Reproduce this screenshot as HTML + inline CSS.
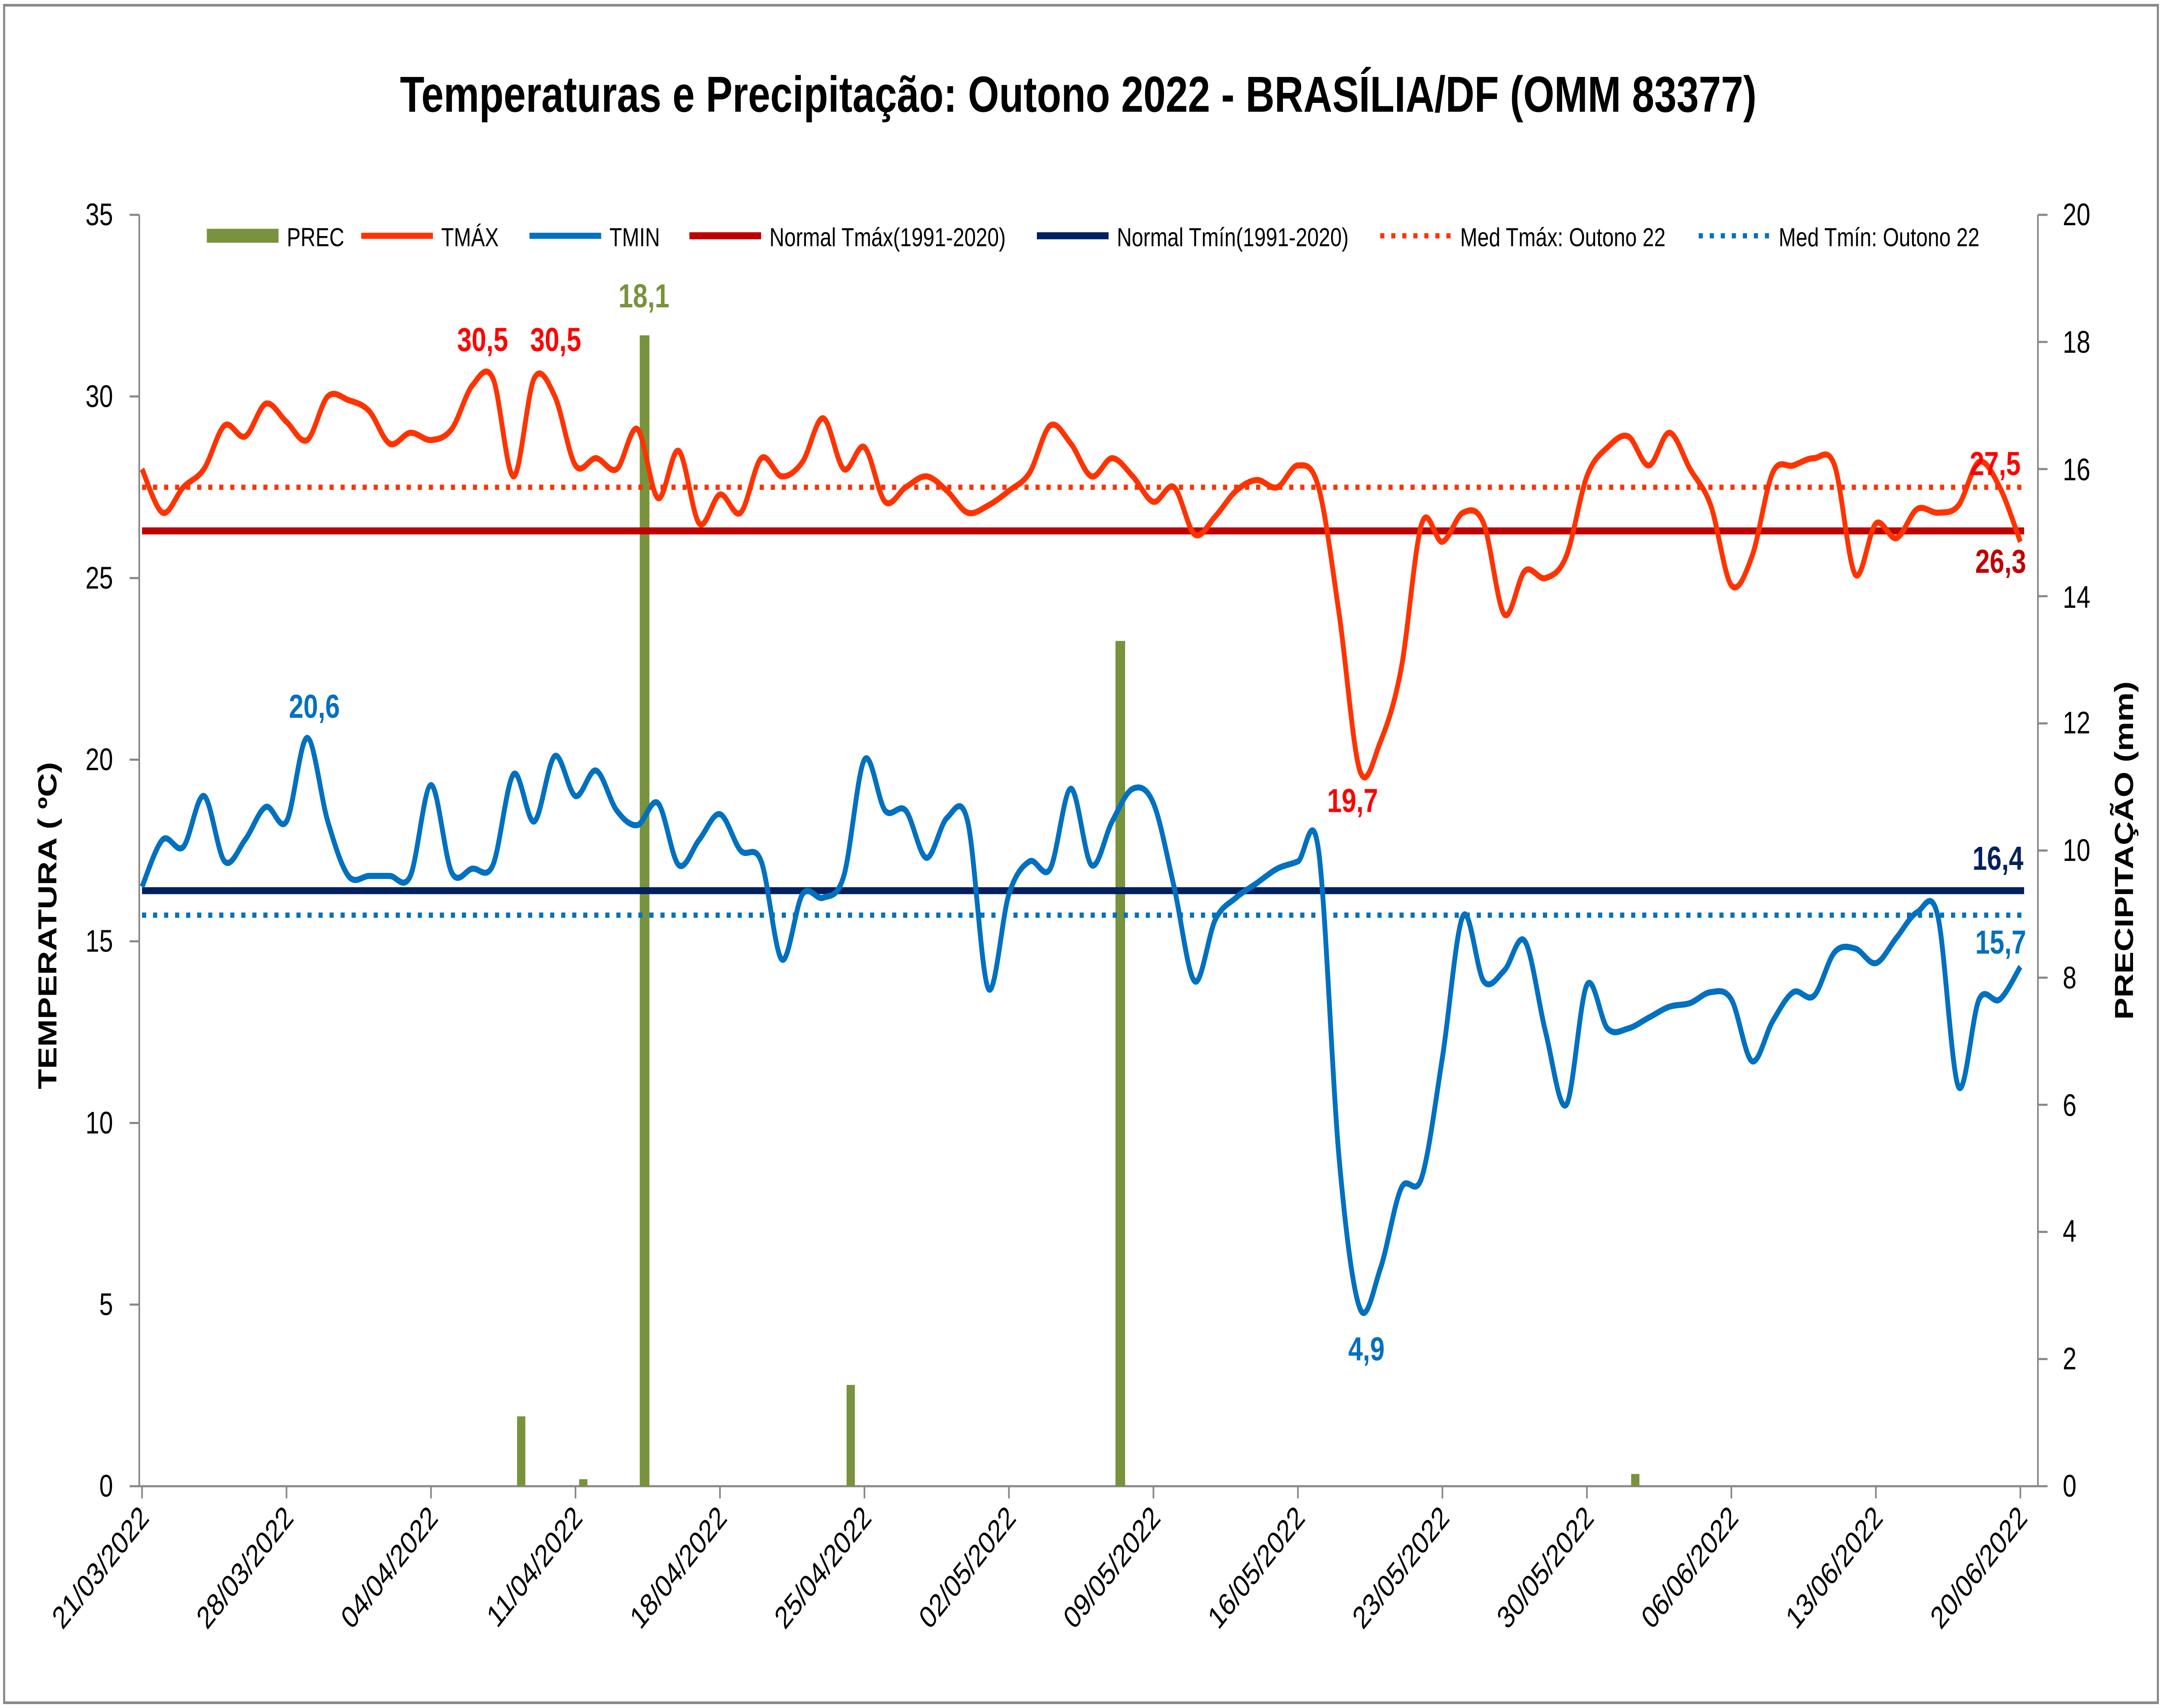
<!DOCTYPE html>
<html><head><meta charset="utf-8"><style>
html,body{margin:0;padding:0;background:#fff;width:100%;height:100%;overflow:hidden;}
svg{display:block;width:100vw;height:100vh;}
text{font-family:"Liberation Sans",sans-serif;}
</style></head><body>
<svg id="c" viewBox="0 0 1568 978" preserveAspectRatio="none" xmlns="http://www.w3.org/2000/svg">
<rect x="0" y="0" width="1568" height="978" fill="#fff"/>
<rect x="3" y="3" width="1562" height="972" fill="none" stroke="#888" stroke-width="1.5"/>
<text x="782" y="64" text-anchor="middle" font-size="29" font-weight="bold" fill="#000">Temperaturas e Precipitação: Outono 2022 - BRASÍLIA/DF (OMM 83377)</text>
<g stroke="#888" stroke-width="1.2">
<line x1="101" y1="123" x2="101" y2="851"/>
<line x1="1478" y1="123" x2="1478" y2="851"/>
<line x1="101" y1="851" x2="1478" y2="851"/>
</g>
<g id="ticks" stroke="#888" stroke-width="1.2"></g>
<g font-size="18" fill="#000" text-anchor="end">
<text x="82" y="857">0</text><text x="82" y="753">5</text><text x="82" y="649">10</text><text x="82" y="545">15</text><text x="82" y="441">20</text><text x="82" y="337">25</text><text x="82" y="233">30</text><text x="82" y="129">35</text>
</g>
<g font-size="18" fill="#000" text-anchor="start">
<text x="1496" y="857">0</text><text x="1496" y="784">2</text><text x="1496" y="711">4</text><text x="1496" y="639">6</text><text x="1496" y="566">8</text><text x="1496" y="493">10</text><text x="1496" y="420">12</text><text x="1496" y="348">14</text><text x="1496" y="275">16</text><text x="1496" y="202">18</text><text x="1496" y="129">20</text>
</g>
<text transform="translate(41,530) rotate(-90)" text-anchor="middle" font-size="19" font-weight="bold">TEMPERATURA  ( ºC)</text>
<text transform="translate(1547,487) rotate(-90)" text-anchor="middle" font-size="19" font-weight="bold">PRECIPITAÇÃO  (mm)</text>
<g id="xl" font-size="18" fill="#000"></g>
<g fill="#77933C">
<rect x="375" y="811" width="6" height="40"/>
<rect x="420" y="847" width="6" height="4"/>
<rect x="464" y="192" width="7" height="659"/>
<rect x="614" y="793" width="6" height="58"/>
<rect x="809" y="367" width="7" height="484"/>
<rect x="1183" y="844" width="6" height="7"/>
</g>
<line x1="103" y1="304" x2="1468" y2="304" stroke="#C00000" stroke-width="4"/>
<line x1="103" y1="510" x2="1468" y2="510" stroke="#002060" stroke-width="4"/>
<line x1="103" y1="279" x2="1468" y2="279" stroke="#FF3300" stroke-width="3" stroke-dasharray="3,5"/>
<line x1="103" y1="524" x2="1468" y2="524" stroke="#0070C0" stroke-width="3" stroke-dasharray="3,5"/>
<path id="tmax" fill="none" stroke="#FF3300" stroke-width="3.5"/>
<path id="tmin" fill="none" stroke="#0070C0" stroke-width="3.5"/>
<g font-size="19" font-weight="bold">
<text x="467" y="176" text-anchor="middle" fill="#77933C">18,1</text>
<text x="350" y="201" text-anchor="middle" fill="#FF0000">30,5</text>
<text x="403" y="201" text-anchor="middle" fill="#FF0000">30,5</text>
<text x="981" y="465" text-anchor="middle" fill="#FF0000">19,7</text>
<text x="1447" y="272" text-anchor="middle" fill="#FF0000">27,5</text>
<text x="1451" y="328" text-anchor="middle" fill="#C00000">26,3</text>
<text x="228" y="411" text-anchor="middle" fill="#0070C0">20,6</text>
<text x="991" y="779" text-anchor="middle" fill="#0070C0">4,9</text>
<text x="1449" y="498" text-anchor="middle" fill="#002060">16,4</text>
<text x="1451" y="546" text-anchor="middle" fill="#0070C0">15,7</text>
</g>
<g font-size="15" fill="#000">
<rect x="150" y="131" width="52" height="8" fill="#77933C"/><text x="208" y="141">PREC</text>
<line x1="262" y1="135" x2="314" y2="135" stroke="#FF3300" stroke-width="3.5"/><text x="320" y="141">TMÁX</text>
<line x1="384" y1="135" x2="436" y2="135" stroke="#0070C0" stroke-width="3.5"/><text x="442" y="141">TMIN</text>
<line x1="500" y1="135" x2="552" y2="135" stroke="#C00000" stroke-width="4"/><text x="558" y="141">Normal Tmáx(1991-2020)</text>
<line x1="752" y1="135" x2="804" y2="135" stroke="#002060" stroke-width="4"/><text x="810" y="141">Normal Tmín(1991-2020)</text>
<line x1="1001" y1="135" x2="1053" y2="135" stroke="#FF3300" stroke-width="3" stroke-dasharray="3,5"/><text x="1059" y="141">Med Tmáx: Outono 22</text>
<line x1="1232" y1="135" x2="1284" y2="135" stroke="#0070C0" stroke-width="3" stroke-dasharray="3,5"/><text x="1290" y="141">Med Tmín: Outono 22</text>
</g>
</svg>
<script>
var tmax=[28.0,26.8,27.5,28.0,29.2,28.9,29.8,29.3,28.8,30.0,29.9,29.6,28.7,29.0,28.8,29.1,30.3,30.5,27.8,30.5,30.0,28.1,28.3,28.0,29.1,27.2,28.5,26.5,27.3,26.8,28.3,27.8,28.2,29.4,28.0,28.6,27.1,27.5,27.8,27.4,26.8,27.0,27.4,27.9,29.2,28.7,27.8,28.3,27.8,27.1,27.5,26.2,26.7,27.4,27.7,27.5,28.1,27.5,24.0,19.7,20.5,22.5,26.5,26.0,26.8,26.5,24.0,25.2,25.0,25.6,27.8,28.6,28.9,28.1,29.0,28.0,27.0,24.8,25.6,27.9,28.1,28.3,28.1,25.1,26.5,26.1,26.9,26.8,27.0,28.2,27.5,26.0];
var tmin=[16.5,17.8,17.6,19.0,17.2,17.8,18.7,18.3,20.6,18.3,16.8,16.8,16.8,16.8,19.3,16.9,17.0,17.1,19.6,18.3,20.1,19.0,19.7,18.6,18.2,18.8,17.1,17.8,18.5,17.5,17.2,14.5,16.3,16.2,16.8,20.0,18.6,18.6,17.3,18.4,18.3,13.7,16.3,17.2,17.0,19.2,17.1,18.3,19.2,18.8,16.5,13.9,15.6,16.2,16.6,17.0,17.2,17.5,9.0,4.9,6.0,8.2,8.5,11.8,15.7,13.9,14.2,15.0,12.5,10.5,13.8,12.6,12.6,12.9,13.2,13.3,13.6,13.4,11.7,12.8,13.6,13.5,14.7,14.8,14.4,15.1,15.8,15.7,11.0,13.4,13.4,14.3];
var X=function(i){return 103+i*14.97;},Y=function(v){return 851-v*20.8;};
function path(a){var p=a.map(function(v,i){return [X(i),Y(v)];});var d="M"+p[0][0]+","+p[0][1];
for(var i=0;i<p.length-1;i++){var p0=p[i-1]||p[i],p1=p[i],p2=p[i+1],p3=p[i+2]||p2;
d+=" C"+(p1[0]+(p2[0]-p0[0])/6)+","+(p1[1]+(p2[1]-p0[1])/6)+" "+(p2[0]-(p3[0]-p1[0])/6)+","+(p2[1]-(p3[1]-p1[1])/6)+" "+p2[0]+","+p2[1];}return d;}
document.getElementById("tmax").setAttribute("d",path(tmax));
document.getElementById("tmin").setAttribute("d",path(tmin));
var ns="http://www.w3.org/2000/svg",tk=document.getElementById("ticks"),xl=document.getElementById("xl");
var labs=["21/03/2022","28/03/2022","04/04/2022","11/04/2022","18/04/2022","25/04/2022","02/05/2022","09/05/2022","16/05/2022","23/05/2022","30/05/2022","06/06/2022","13/06/2022","20/06/2022"];
for(var i=0;i<14;i++){var d=i<13?i*7:91;var x=X(d);var l=document.createElementNS(ns,"line");l.setAttribute("x1",x);l.setAttribute("x2",x);l.setAttribute("y1",851);l.setAttribute("y2",858);tk.appendChild(l);
var t=document.createElementNS(ns,"text");t.setAttribute("transform","translate("+(x+6)+",870) rotate(-45)");t.setAttribute("text-anchor","end");t.textContent=labs[i];xl.appendChild(t);}
for(var v=0;v<=35;v+=5){var l=document.createElementNS(ns,"line");l.setAttribute("x1",94);l.setAttribute("x2",101);l.setAttribute("y1",Y(v));l.setAttribute("y2",Y(v));tk.appendChild(l);}
for(var m=0;m<=20;m+=2){var y=851-m*36.4;var l=document.createElementNS(ns,"line");l.setAttribute("x1",1478);l.setAttribute("x2",1485);l.setAttribute("y1",y);l.setAttribute("y2",y);tk.appendChild(l);}
</script>
</body></html>
